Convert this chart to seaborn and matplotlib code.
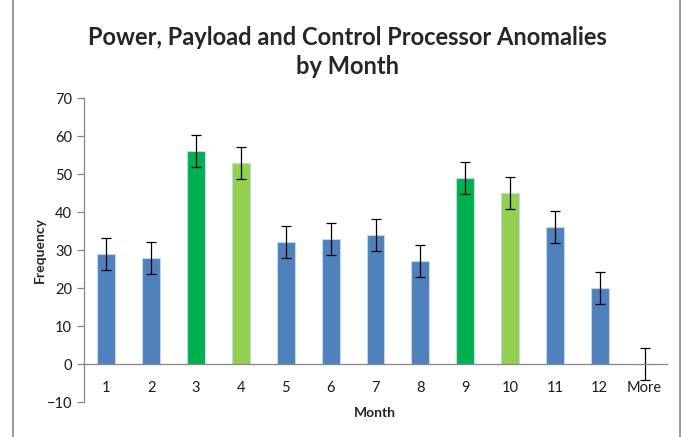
import matplotlib
matplotlib.use("Agg")
import matplotlib.pyplot as plt
import seaborn as sns
import pandas as pd
from matplotlib.lines import Line2D

months = ["1", "2", "3", "4", "5", "6", "7", "8", "9", "10", "11", "12", "More"]
frequency = [29, 28, 56, 53, 32, 33, 34, 27, 49, 45, 36, 20, 0]
error = [4.2] * 13
bar_colors = ["#4F81BD", "#4F81BD", "#00B050", "#92D050", "#4F81BD", "#4F81BD",
              "#4F81BD", "#4F81BD", "#00B050", "#92D050", "#4F81BD", "#4F81BD", "#4F81BD"]

sns.set_theme(style="white")
plt.rcParams["font.family"] = ["Lato", "DejaVu Sans"]

df = pd.DataFrame({"Month": months, "Frequency": frequency})

fig = plt.figure(figsize=(6.82, 4.37), dpi=100)
ax = fig.add_axes([84 / 682, 1 - 402 / 437, (667 - 84) / 682, (402 - 98) / 437])

sns.barplot(data=df, x="Month", y="Frequency", hue="Month", palette=bar_colors,
            legend=False, errorbar=None, width=0.4, ax=ax,
            edgecolor="#C6D6EA", linewidth=0.8, saturation=1)
ax.errorbar(range(len(months)), frequency, yerr=error, fmt="none",
            ecolor="#000000", elinewidth=0.9, capsize=3.5, capthick=0.9)

ax.set_xlim(-0.5, len(months) - 0.5)
ax.set_ylim(-10, 70)
ax.set_yticks(range(-10, 71, 10))

for s in ["top", "right"]:
    ax.spines[s].set_visible(False)
ax.spines["bottom"].set_position(("data", 0))
for s in ["left", "bottom"]:
    ax.spines[s].set_color("#868686")
    ax.spines[s].set_linewidth(0.9)

ax.tick_params(axis="x", which="major", length=0, pad=12, labelsize=10.5, labelcolor="#1a1a1a")
ax.set_xticks([i + 0.5 for i in range(-1, len(months))], minor=True)
ax.tick_params(axis="x", which="minor", length=5, direction="out", color="#868686", width=0.9)
ax.tick_params(axis="y", length=5, direction="out", color="#868686", width=0.9,
               labelsize=10.5, labelcolor="#1a1a1a", left=True)

ax.set_xlabel("")
ax.set_ylabel("Frequency", fontsize=10, fontweight="bold")
ax.yaxis.set_label_coords((46 - 84) / 583, 0.5)
fig.text(375 / 682, 1 - 413 / 437, "Month", ha="center", va="center",
         fontsize=10, fontweight="bold")

fig.text(347 / 682, 1 - 52 / 437, "Power, Payload and Control Processor Anomalies\nby Month",
         ha="center", va="center", fontsize=17, fontweight="bold", linespacing=1.35)

fig.add_artist(Line2D([13 / 682, 13 / 682], [0, 1], color="#868686", linewidth=1.2,
                      transform=fig.transFigure))
fig.add_artist(Line2D([680 / 682, 680 / 682], [0, 1], color="#868686", linewidth=1.2,
                      transform=fig.transFigure))

fig.savefig("out.png", dpi=100)
